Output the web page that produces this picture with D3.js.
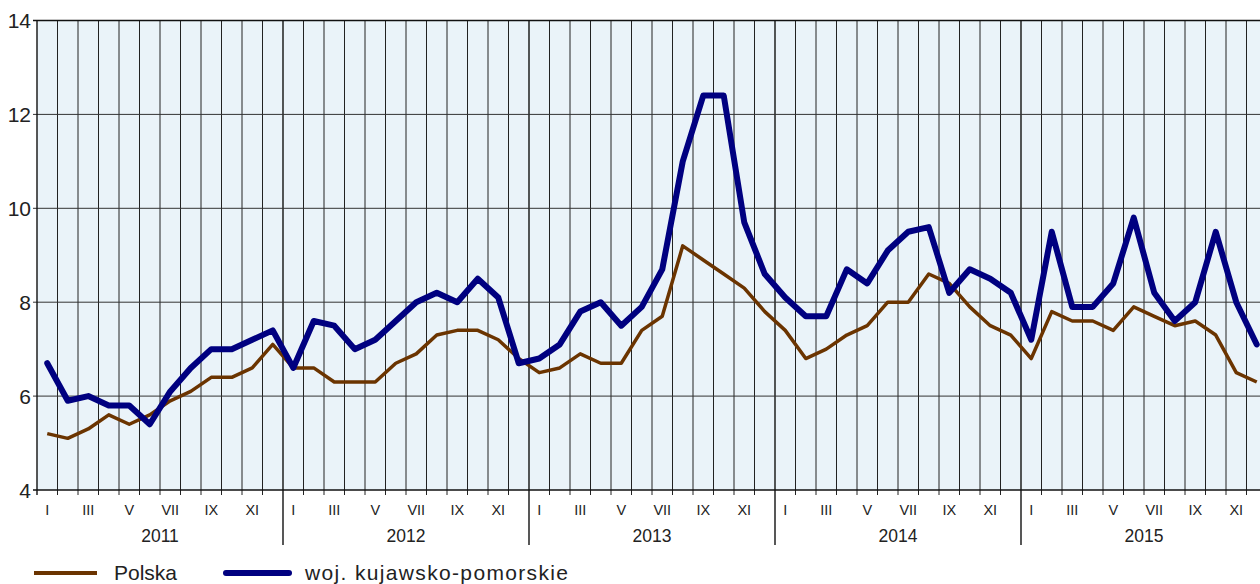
<!DOCTYPE html>
<html><head><meta charset="utf-8">
<script src="https://cdn.jsdelivr.net/npm/d3@7"></script>
<style>
body{margin:0;background:#fff;overflow:hidden}
text{font-family:"Liberation Sans",Arial,sans-serif;fill:#222}
</style>
</head><body><svg id="c" width="1260" height="584"></svg>
<script>
const years = ["2011","2012","2013","2014","2015"];
const monthLabels = ["I","","III","","V","","VII","","IX","","XI",""];
const yTicks = [4,6,8,10,12,14];
const seriesNames = ["Polska","woj. kujawsko-pomorskie"];
const polska = [
  5.2,5.1,5.3,5.6,5.4,5.6,5.9,6.1,6.4,6.4,6.6,7.1,
  6.6,6.6,6.3,6.3,6.3,6.7,6.9,7.3,7.4,7.4,7.2,6.8,
  6.5,6.6,6.9,6.7,6.7,7.4,7.7,9.2,8.9,8.6,8.3,7.8,
  7.4,6.8,7.0,7.3,7.5,8.0,8.0,8.6,8.4,7.9,7.5,7.3,
  6.8,7.8,7.6,7.6,7.4,7.9,7.7,7.5,7.6,7.3,6.5,6.3];
const kujawsko = [
  6.7,5.9,6.0,5.8,5.8,5.4,6.1,6.6,7.0,7.0,7.2,7.4,
  6.6,7.6,7.5,7.0,7.2,7.6,8.0,8.2,8.0,8.5,8.1,6.7,
  6.8,7.1,7.8,8.0,7.5,7.9,8.7,11.0,12.4,12.4,9.7,8.6,
  8.1,7.7,7.7,8.7,8.4,9.1,9.5,9.6,8.2,8.7,8.5,8.2,
  7.2,9.5,7.9,7.9,8.4,9.8,8.2,7.6,8.0,9.5,8.0,7.1];

const svg = d3.select("#c");
const L = 37, R = 1267, T = 20.5, B = 490;
const nM = years.length * 12;
const x = d3.scaleBand().domain(d3.range(nM)).range([L, R]).padding(0);
const bw = x.bandwidth();
const y = d3.scaleLinear().domain([4, 14]).range([B, T]);
const cx = i => x(i) + bw / 2;

svg.append("rect").attr("x", L).attr("y", T).attr("width", R - L).attr("height", B - T).attr("fill", "#eaf3f9");

// vertical month lines
const g = svg.append("g");
d3.range(1, nM).forEach(i => {
  const isYear = i % 12 === 0;
  g.append("line").attr("x1", x(i)).attr("x2", x(i))
    .attr("y1", T).attr("y2", isYear ? 545 : 495)
    .attr("stroke", isYear ? "#111" : "#222").attr("stroke-width", isYear ? 1.4 : 1);
});
// horizontal grid
yTicks.forEach(v => {
  g.append("line").attr("x1", 33).attr("x2", R).attr("y1", y(v)).attr("y2", y(v))
    .attr("stroke", (v === 4 || v === 14) ? "#111" : "#333").attr("stroke-width", (v === 4 || v === 14) ? 1.4 : 1);
});
// left axis line
g.append("line").attr("x1", L).attr("x2", L).attr("y1", T).attr("y2", B + 5).attr("stroke", "#111").attr("stroke-width", 1.4);

// y labels
svg.append("g").selectAll("text").data(yTicks).join("text")
  .attr("x", 31).attr("y", d => y(d) + 7.5).attr("text-anchor", "end")
  .attr("font-size", 21).text(d => d);

// month labels
svg.append("g").selectAll("text").data(d3.range(nM)).join("text")
  .attr("x", d => cx(d)).attr("y", 515).attr("text-anchor", "middle")
  .attr("font-size", 14.5).text(d => monthLabels[d % 12]);

// year labels
svg.append("g").selectAll("text").data(years).join("text")
  .attr("x", (d, i) => x(i * 12) + bw * 6).attr("y", 541.5).attr("text-anchor", "middle")
  .attr("font-size", 17.5).attr("fill", "#333").text(d => d);

const line = d3.line().x((d, i) => cx(i)).y(d => y(d));
svg.append("path").datum(polska).attr("d", line).attr("fill", "none")
  .attr("stroke", "#6b3400").attr("stroke-width", 3.5).attr("stroke-linejoin", "round");
svg.append("path").datum(kujawsko).attr("d", line).attr("fill", "none")
  .attr("stroke", "#000080").attr("stroke-width", 6).attr("stroke-linejoin", "round").attr("stroke-linecap", "round");

// legend
const lg = svg.append("g");
lg.append("line").attr("x1", 34).attr("x2", 97).attr("y1", 573).attr("y2", 573)
  .attr("stroke", "#6b3400").attr("stroke-width", 4);
lg.append("text").attr("x", 114).attr("y", 579.5).attr("font-size", 21).text(seriesNames[0]);
lg.append("line").attr("x1", 226).attr("x2", 289).attr("y1", 573).attr("y2", 573)
  .attr("stroke", "#000080").attr("stroke-width", 6).attr("stroke-linecap", "round");
lg.append("text").attr("x", 305).attr("y", 579.5).attr("font-size", 21)
  .attr("textLength", 263).attr("lengthAdjust", "spacing").text(seriesNames[1]);
</script>
</body></html>
